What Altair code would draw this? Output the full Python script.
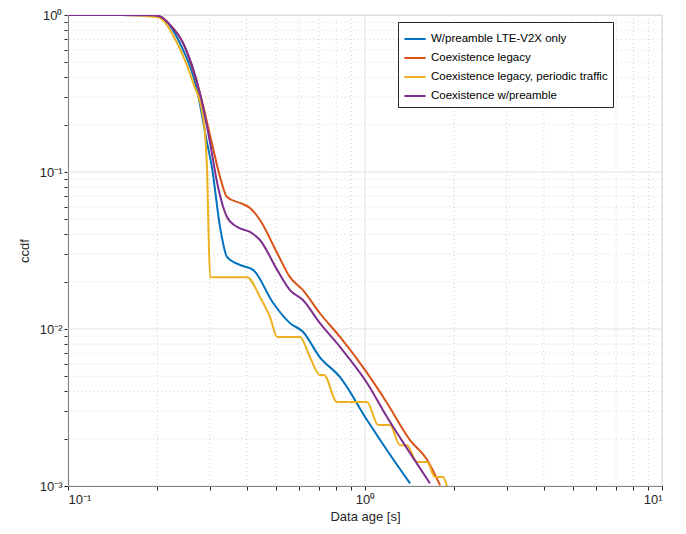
import altair as alt
import pandas as pd

blue_x = [0.1, 0.15, 0.19, 0.204, 0.22, 0.238, 0.272, 0.294, 0.305, 0.325, 0.343, 0.379, 0.420, 0.490, 0.559, 0.618, 0.705, 0.824, 1.016, 1.186, 1.418]
blue_y = [1, 1, 0.995, 0.975, 0.86, 0.663, 0.333, 0.153, 0.108, 0.0447, 0.0288, 0.0256, 0.0238, 0.0147, 0.0109, 0.0096, 0.0066, 0.00494, 0.00263, 0.00169, 0.00104]

red_x = [0.1, 0.15, 0.19, 0.204, 0.22, 0.244, 0.278, 0.305, 0.325, 0.343, 0.379, 0.410, 0.443, 0.506, 0.559, 0.618, 0.705, 0.824, 1.016, 1.186, 1.418, 1.618, 1.79]
red_y = [1, 1, 0.995, 0.978, 0.87, 0.663, 0.318, 0.153, 0.093, 0.0693, 0.0635, 0.059, 0.0495, 0.0305, 0.0214, 0.0177, 0.0126, 0.0089, 0.00525, 0.00338, 0.00196, 0.00147, 0.00101]

yellow_x = [0.1, 0.15, 0.2, 0.233, 0.264, 0.285, 0.294, 0.297, 0.301, 0.401, 0.443, 0.479, 0.506, 0.604, 0.653, 0.705, 0.728, 0.805, 1.016, 1.107, 1.213, 1.312, 1.384, 1.497, 1.618, 1.72, 1.832, 1.888]
yellow_y = [1, 1, 0.97, 0.663, 0.369, 0.224, 0.103, 0.0447, 0.0214, 0.0214, 0.016, 0.0119, 0.0089, 0.0089, 0.0066, 0.0051, 0.0051, 0.00343, 0.00343, 0.00245, 0.00245, 0.00182, 0.00182, 0.00142, 0.00142, 0.00114, 0.00114, 0.00099]

purple_x = [0.1, 0.15, 0.19, 0.204, 0.22, 0.244, 0.278, 0.301, 0.318, 0.343, 0.371, 0.410, 0.443, 0.506, 0.559, 0.618, 0.705, 0.824, 1.016, 1.186, 1.418, 1.655]
purple_y = [1, 1, 0.995, 0.978, 0.87, 0.663, 0.318, 0.153, 0.085, 0.0517, 0.0447, 0.0415, 0.0369, 0.0238, 0.0177, 0.0153, 0.0109, 0.00768, 0.00453, 0.00275, 0.00162, 0.00104]

names = ["W/preamble LTE-V2X only", "Coexistence legacy",
         "Coexistence legacy, periodic traffic", "Coexistence w/preamble"]
colors = ["#0072BD", "#D95319", "#EDB120", "#7E2F8E"]

rows = []
for i, (xs, ys) in enumerate([(blue_x, blue_y), (red_x, red_y), (yellow_x, yellow_y), (purple_x, purple_y)]):
    for j, (a, b) in enumerate(zip(xs, ys)):
        rows.append({"series": names[i], "age": a, "ccdf": b, "k": j})
df = pd.DataFrame(rows)

x_major = [0.1, 1, 10]
y_major = [0.001, 0.01, 0.1, 1]
x_minor = [m * d for d in [0.1, 1] for m in range(2, 10)]
y_minor = [m * d for d in [0.001, 0.01, 0.1] for m in range(2, 10)]

xs = alt.Scale(type="log", domain=[0.1, 10])
ys = alt.Scale(type="log", domain=[0.001, 1])

lg = "log(datum.value)/log(10)"
lab = ("abs(" + lg + " - round(" + lg + ")) < 0.001 ? "
       "{'-3': '10⁻³', '-2': '10⁻²', '-1': '10⁻¹', '0': '10⁰', '1': '10¹'}['' + round(" + lg + ")] : ''")

common = dict(grid=False, labelExpr=lab, tickColor="#262626", domainColor="#262626", labelColor="#262626",
              titleColor="#262626", labelFontSize=13, titleFontSize=13, titleFontWeight="normal", tickSize=4)
x_ax = alt.Axis(values=x_major + x_minor, title="Data age [s]", labelPadding=3, **common)
y_ax = alt.Axis(values=y_major + y_minor, title="ccdf", titlePadding=8, **common)

gx_minor = alt.Chart(pd.DataFrame({"v": x_minor})).mark_rule(color="#c8c8c8", strokeDash=[1, 3], strokeWidth=0.8).encode(x=alt.X("v:Q", scale=xs))
gy_minor = alt.Chart(pd.DataFrame({"v": y_minor})).mark_rule(color="#c8c8c8", strokeDash=[1, 3], strokeWidth=0.8).encode(y=alt.Y("v:Q", scale=ys))
gx_major = alt.Chart(pd.DataFrame({"v": x_major})).mark_rule(color="#e0e0e0", strokeWidth=1).encode(x=alt.X("v:Q", scale=xs))
gy_major = alt.Chart(pd.DataFrame({"v": y_major})).mark_rule(color="#e0e0e0", strokeWidth=1).encode(y=alt.Y("v:Q", scale=ys))

lines = alt.Chart(df).mark_line(strokeWidth=2, clip=True, interpolate="monotone").encode(
    x=alt.X("age:Q", scale=xs, axis=x_ax),
    y=alt.Y("ccdf:Q", scale=ys, axis=y_ax),
    color=alt.Color("series:N", scale=alt.Scale(domain=names, range=colors), sort=names,
                    legend=alt.Legend(title=None, orient="none", legendX=330, legendY=7,
                                      symbolType="stroke", symbolStrokeWidth=2, symbolSize=450,
                                      labelFontSize=11.5, labelColor="#000", fillColor="white",
                                      strokeColor="#262626", padding=5, rowPadding=1, labelLimit=300)),
    order="k:Q",
)

chart = alt.layer(gx_minor, gy_minor, gx_major, gy_major, lines).properties(
    width=594, height=471,
    autosize=alt.AutoSizeParams(type="none"),
    padding={"left": 60, "top": 7, "right": 16, "bottom": 40},
).configure_view(stroke="#262626", strokeWidth=1).configure(font="Liberation Sans")

chart.save("out.html", embed_options={"renderer": "svg", "actions": False})
